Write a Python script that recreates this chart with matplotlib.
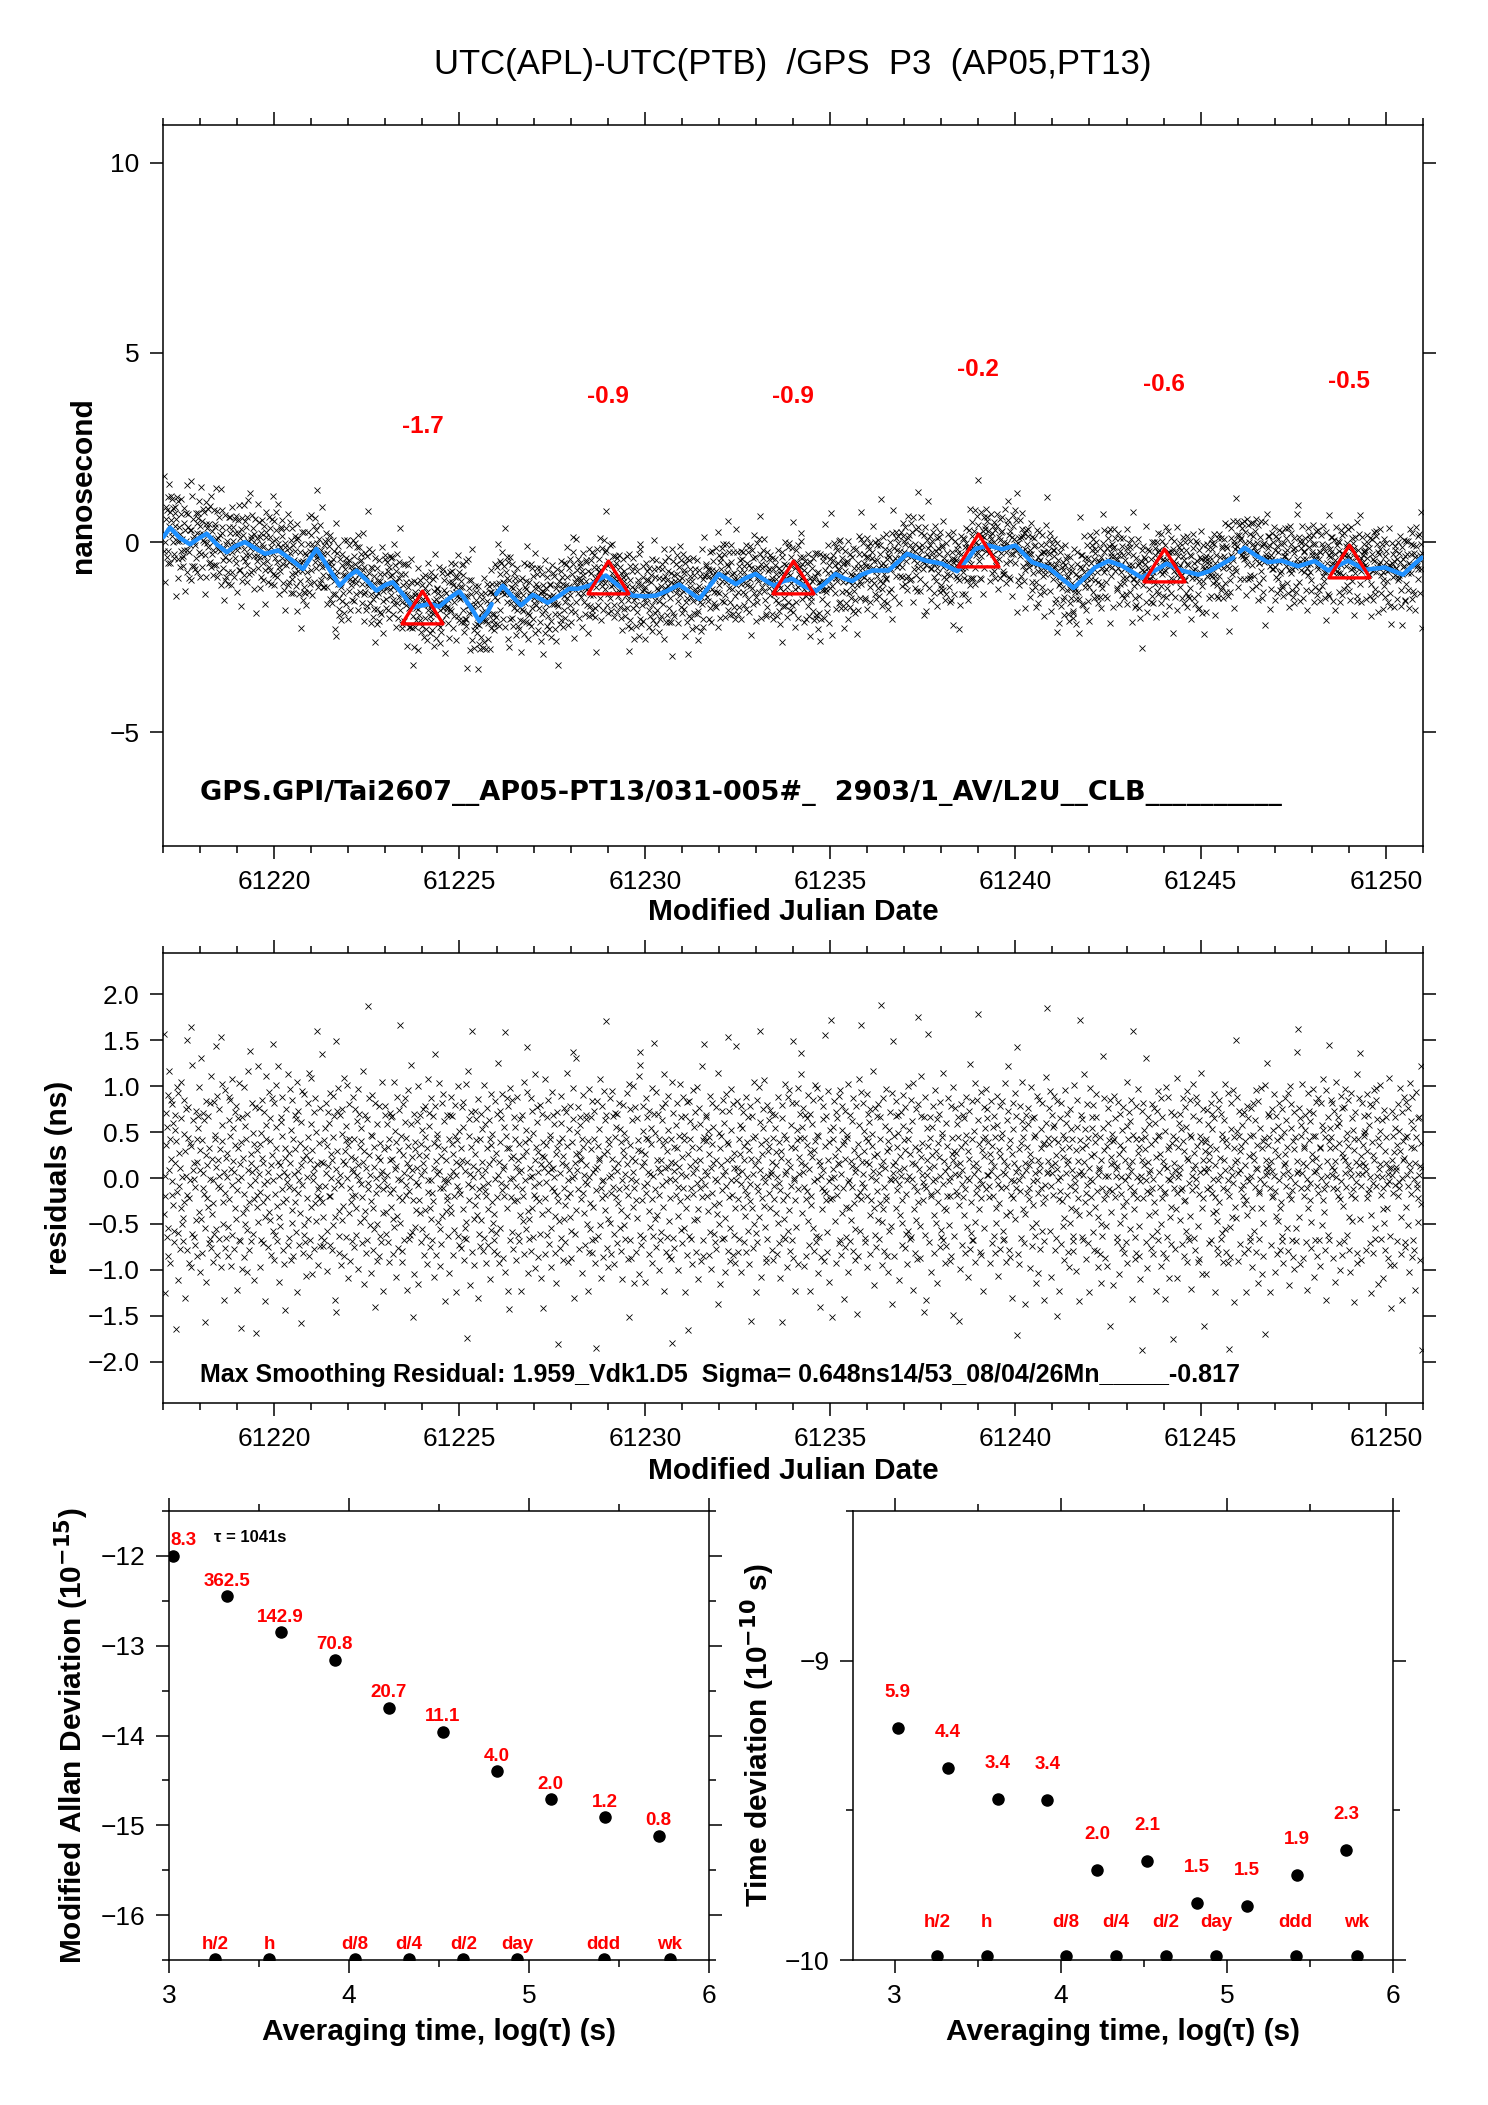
import numpy as np
import matplotlib
matplotlib.use("Agg")
import matplotlib.pyplot as plt
from matplotlib.ticker import MultipleLocator, FixedLocator, FormatStrFormatter
from matplotlib.path import Path

plt.rcParams['font.family'] = ['Liberation Sans', 'DejaVu Sans']
plt.rcParams['axes.unicode_minus'] = True

# ------------------------------------------------------------------ data
title = "UTC(APL)-UTC(PTB)  /GPS  P3  (AP05,PT13)"
info_top = "GPS.GPI/Tai2607__AP05-PT13/031-005#_  2903/1_AV/L2U__CLB__________"
info_mid = "Max Smoothing Residual: 1.959_Vdk1.D5  Sigma= 0.648ns14/53_08/04/26Mn_____-0.817"

mjd_first, mjd_last = 61217.02, 61250.98

# smoothed curve (blue)
smooth_mjd = [61217.01, 61217.19, 61217.45, 61217.73, 61217.95, 61218.18, 61218.45, 61218.72,
              61218.95, 61219.21, 61219.48, 61219.75, 61220.11, 61220.45, 61220.78, 61221.14,
              61221.45, 61221.77, 61222.0, 61222.22, 61222.5, 61222.76, 61223.0, 61223.2,
              61223.5, 61223.74, 61224.0, 61224.19, 61224.46, 61224.75, 61225.0, 61225.3,
              61225.54, 61225.75, 61225.87, 61225.99, 61226.17, 61226.4, 61226.66, 61226.98,
              61227.38, 61227.7, 61227.96, 61228.2, 61228.5, 61228.95, 61229.3, 61229.67,
              61230.0, 61230.3, 61230.6, 61230.93, 61231.2, 61231.47, 61231.75, 61232.0,
              61232.25, 61232.46, 61232.7, 61232.99, 61233.25, 61233.49, 61233.75, 61233.98,
              61234.3, 61234.61, 61234.9, 61235.15, 61235.38, 61235.6, 61235.85, 61236.14,
              61236.58, 61236.85, 61237.08, 61237.57, 61238.02, 61238.43, 61238.7, 61238.92,
              61239.28, 61239.64, 61240.0, 61240.45, 61240.9, 61241.25, 61241.57, 61241.85,
              61242.15, 61242.51, 61242.87, 61243.41, 61243.77, 61244.08, 61244.49, 61244.94,
              61245.25, 61245.56, 61245.88, 61246.05, 61246.19, 61246.5, 61246.82, 61247.18,
              61247.63, 61248.08, 61248.44, 61248.98, 61249.43, 61249.97, 61250.46, 61250.86,
              61250.97]
smooth_ns = [0.14, 0.39, 0.12, -0.05, 0.10, 0.23, -0.05, -0.26,
             -0.10, 0.01, -0.15, -0.30, -0.21, -0.45, -0.70, -0.17,
             -0.65, -1.14, -0.90, -0.74, -1.00, -1.27, -1.12, -1.05,
             -1.40, -1.71, -1.66, -1.62, -1.69, -1.45, -1.29, -1.70,
             -2.08, -1.85, -1.62, -1.36, -1.14, -1.40, -1.66, -1.38,
             -1.59, -1.40, -1.22, -1.22, -1.14, -0.87, -1.15, -1.40,
             -1.42, -1.40, -1.28, -1.11, -1.30, -1.49, -1.15, -0.83,
             -0.98, -1.10, -0.95, -0.83, -1.00, -1.14, -1.02, -0.96,
             -1.15, -1.29, -1.05, -0.83, -0.95, -1.02, -0.85, -0.74,
             -0.74, -0.50, -0.30, -0.48, -0.56, -0.76, -0.45, -0.17,
             -0.08, -0.18, -0.08, -0.52, -0.67, -0.95, -1.20, -0.95,
             -0.66, -0.49, -0.61, -0.93, -0.74, -0.56, -0.74, -0.85,
             -0.75, -0.58, -0.40, -0.25, -0.14, -0.35, -0.52, -0.48,
             -0.63, -0.49, -0.74, -0.48, -0.72, -0.66, -0.85, -0.49,
             -0.40]
line_breaks = [61225.92, 61245.95]

# 5-day averages (red triangles)
tri_mjd = [61224, 61229, 61234, 61239, 61244, 61249]
tri_ns = [-1.7, -0.9, -0.9, -0.2, -0.6, -0.5]
tri_labels = ["-1.7", "-0.9", "-0.9", "-0.2", "-0.6", "-0.5"]

# residuals (ns): one coarse code character plus one fine digit per point.
# code characters '#'..'~' (backslash skipped) -> values in ns:
CODE_CHARS = "".join(chr(c) for c in range(35, 127) if c != 92)
CODE_VALUES = ([-1.96, -1.87, -1.80, -1.75, -1.70, -1.66, -1.62, -1.58, -1.55, -1.51,
                -1.48, -1.45, -1.42, -1.39, -1.36] +
               [-1.33, -1.23, -1.15, -1.09, -1.03, -0.98, -0.94, -0.90, -0.86, -0.83,
                -0.80, -0.77, -0.74, -0.71, -0.68] +
               [-0.66, -0.62, -0.57, -0.53, -0.48, -0.44, -0.40, -0.35, -0.31, -0.26,
                -0.22, -0.18, -0.13, -0.09, -0.04, 0.00, 0.04, 0.09, 0.13, 0.18,
                0.22, 0.26, 0.31, 0.35, 0.40, 0.44, 0.48, 0.53, 0.57, 0.62, 0.66] +
               [0.68, 0.71, 0.74, 0.77, 0.80, 0.83, 0.86, 0.90, 0.94, 0.98,
                1.03, 1.09, 1.15, 1.23, 1.33] +
               [1.36, 1.39, 1.42, 1.45, 1.48, 1.51, 1.55, 1.58, 1.62, 1.66,
                1.70, 1.75, 1.80, 1.87, 1.96])
resid_codes = "".join([
    "GwQ3KbXA^h;DRmZ8UfLeOI_C?Ta](YjM5BiVN=SH`kEP@FgJ[W2cQu<LdZ9KOYy7XBn_RTAP>",
    "NcE:TZa]HjR6WoFY<MbQ_L+Dg4VSK`I?XeAPl=UGJ9OfB[ZrSCh;NTd@QMWv7Yk^EJ2RLi>AUP",
    "V;DhK_ZgR8NBl]TQ=XcIFe3MW`OAk?SP)Ya7GUjL:E^HZ6bCRm<JNqTV@fQ[B5KXdOS'IWLnE",
    "Qd7MXA[Uf?JTNb2GZl^OK=RiHYE`S;VgCPte9BLW]k@ITnFQ4DSa_ZMh<JR8UX.KcOPm>ANVj",
    "T]9fEHZ:MQaWJ`Ck3LRbO?YG_S*iNU<BDh@XV5KPeFZm;TAI^lW6QOc=RJgE[SLx8MNYd>KBT",
    "JoG>TYA]NeQC6XbSL_Ki?PV=UhDZ`MF2Ru-cWOj<HBQa8N[EdTIl;SWA^YkP5XGZf9MJU@LRgQ",
    "Z=LcUIB_Qj7SPaXEN]Y?KTm4FWHb;RA`OM}gVDQ6J[Zh<ICSX0fLP^E9NUd:BTY@QkR3MGOWa",
    "eBHN^Q?XZ9TbLIa`UM;FDk]RY5SGhP=KWcyE[O8J<VfAQg_NLZ3TXi@SMBP^nUCR,Ka6DYWOH",
    "S_Nj4KVaGX?QD]TcR;ZHeUB8WlOMb^I=FPgLAJ`5SYdpT:QZ[EXkR7NCV?GfMi_PWO1HTaKLB",
    "O6ZaIPhG`XR;VCKe[TQ3NYjB?M]LS=WdUf^HA9DRk@E&TmOJ_Z4QXbNw<PS8FcVIY`LGg2RMB>",
    "YbF]QT<NAk^MR8LWdO?H_SZ5CXiJ[EU=G@PfVBa;KQn9TDcY`OMh:RL]Sw6ZNIgXe3W/PAjUK",
    "Cf=VPJaZ^SN9KhTB?QX`GR3MbLUEk;OYD]Wir6HFZ@SPg<IcQA[NL7TmXKd_R:VOJeBS5GUaY0S",
    "UlK;XOB`QHf?TZ[R7DiNSaM^P<GV4LWcJ%YE=QAh_ZT9UFdN@IbSKXm8OR]GeLC:PYqj`Q2TBVo",
    "H[RdM=VUa^TK6ZXhLGQ?OSb_NE3YjP<CJ`WAf;IQZc@R8M$SgBXT]UlD5NKeO:PVi_LHaz>W7FZ",
    "PXgE;LQiU`N8BSbZ^KRa?JTMfC]H=YO5WeDV[Q@ZNhSG9Lk,XAc:P_UIjR4MTd<KOF`YWl6Bqn",
    "W?JS]AeTN4VZgLO`RYcH;QD^XKj8BPsa[MFi=UGSbZ7LQ@TCd_NXIm3YRf<OWAh]SE:KPZ9Tk%",
    "AbXR=OTL^WeGN7ZSkJ`CQ?UMh[DYa3IPf;KV(gB_SZ@N8XiLQE]TcR<FOj5HWd^MU9PKn:YAZs",
    "RN`YaKQ]H;ZVhCS7XLf^TIB?PUd=GO1mJ[EW4SZbM@QgA_R6FNiYTv<XcK9DPj]LUe:VSB8HOr",
    "fS<KQZA^VeN6R]IbXT?GMh;LPY`CW8OdJ+UaH=QZkE[S3BNg@TMFjx_RX5VKc]PIlDO:Y9AeWQ",
    "LX_IcQR=TaZ9KN]bGSV;PEh?OYM5WU*d`BJ[FkQ@ZR7LTgCHi<SN^XAfu:OP3KWeD]YMj8QUZbm",
    "TpG]QcN8ZSa;KX`MhE?RVb3LIU^Df=OWkY@B[Pj6ZTA/SgQ:NHe_RM9XvJLa<CUi4YOK]Pz",
    "K,RZ^PfEVb8NL`TWh?SAj;QGd]XM2YUc=IB[ZkO6HPa@TF_SNg<JWD9QRe-LV:Xl^CMyKiTO",
    "Qe]WNA?ZTh7LYb_SGc;KPX[Rm4UIdBO=VM`Ff@QJZa}SE8THg<NR^LKj:W6YC]XPbDOi0QSt",
    "Z;PTfI`XMa[RN5GUbQ?KEh^YSdW=LB8OjCZ]QV@Ag_TPk3NHX<ScF9MJe{RW:DUl`QYOK.Na",
    "hB2NQ]TXw?RaZL6KV^dOGS;iPWE`4MJYbUQ=fCA[Z@NmTI8R_H>XLSgODP9Ke:VZ-jTBWQcM",
    "VS^LaZ+QIT7Xe?NRKb`G;MYh[PD5WOcUn=BJfAZ@SQ]Ek8TLNg_R|HX<PKi:OW3YCdV^ZMjQ",
    "c`QYKN8VRgT?XL]BSa;ZIEh^PO5JWd=UMZf[CRA@TkQN9G_Sbn<XHY:LP2VKe]OTFi`MQ'rS",
    ";P8WeMAYQ_kHZ]?GT0RbXLc^KNS7VjU`D>IOaZQ[B4EhPT6LRg=SWM]CfXJ2Y@KN_lQ}ZTRd",
    "XiCN5SbQ]LZ^h=TVA,RgYO3K`PMe?JWU[DF9Zj_QaLS;TX7ENcI]RZ@B<PkMO6HW^fKTGQ2Yz",
    "bRWA_@QmT]J9LXeNZ?S3GPjUK^O`Cd=VIY[ah<MQF7SR;ZET4BNo]KWgP:LD8X_QcMYf)UHS",
    "M[4YTZhK`QRB?SfN6VXaELP]=IWdG;UO@J8k^ZQbS_CNgR2TLx[HM9AYe<KPVjX:DO5QZc$T",
    "KeS]WZ?oO7MaTQG^LRX=fBN;PJd_YH3UCbZi@Q[VNg8E`KT<SL]M2j:ARWhPX5OFc?IYQ&ZN",
    "aTR=ZHl5LPXQ_bSE]M?NgYWJ;dK^C8UiTBO@G[fZ3QMRk`VAS<hNPXe9DL:_ZQmYI6TKc)RW",
    "YQ6ZcMR^V?TNXfAL]bPG`iSK3HW=Ed;OJgUQa@B[Z9N_TRCk<YXM8PhL$:DSe]QFOjZW2ITu",
    "F]hTQ9ZcR?WXM^aNLJ;bYS3KeGP`=OUBZ@dQ7I[fVTC_NiS<XRg4LAM]PjHW6EY:ZOk'QSTn",
    "QXb`SZN3?TcKR]LhPM6WaGY;UE^fOI=JZdB@Q8S[gTV_NCXi<R4LjPKe]AMY:Wc7ZOD?pQTx",
    "RdG8`NZ^QkT:XLWa]?SP3MhIYc_KO=EVTbj[Q5ZAUfRN;LgS@X7WPe^D]KlHMZ<i2OTQBaYs",
    "A]WgZQeS:NbRT4XkP^MLaY_?K7hOcV;IU@dTjQNZ[BXSf=G6RLPi`E]M2WZbKTO<m9QYSgFp",
    "U9NQfXT[aZS]=RWhKLbM^P?e3GYdO;ViTC@gNj`QZ4RXS]kALP_5HMcE<WZTaNI:QOlR8B/S",
    "TcQLZ8V^NaRSX?Ke]OMjWG;2PbTYhU@Z=fI[QDdN6SkR_XLg:A]WP<3TZiOMKE`QaS9JYnR$",
])
resid_fine = "".join([
    "7310946825113807294658027153946018275309481726354098127364059128374650917",
    "2297403816553028194766120938574409318726118562093733490718526627134098055",
    "8804126937174285936022184739059961302847550392716488374052196612948073341",
    "5526081739441973028577804159263372018645991453270866238719405508263917728",
    "1137924086665401837299018364572248710395773620914844159038268892047613560",
    "3390517284772846501911462039588857193064221374859066409283715579104836217",
    "9928371045331608249755749361208801264739446395718211294803677738015924689",
    "6607149382228593071644390728511178346209995201863733604892158847153092436",
    "4415893026997304185266281573903319406827770183596455462907132290516483871",
    "2263074918881256930433579204166694031857112856370999051728464432687015593",
    "7749206135550834719211869235704431075268886729041322158360946694170258312",
    "5581930472223670185999134560287768203145334291876011876359025520491637946",
    "8830162457446958302177240163981157390642668521407933019687529946027315204",
    "1192740583663710592422598314609904627381551683902777482015963385162740678",
    "4457028316882594617366037182952271954038334906581299184236071164390785531",
    "6628391504119407236844871609325530824719887623904122039571687741589236092",
    "3376510849554126803788120934656647901283119537460244280619579960834172783",
    "9904283671771854692033654012872219683054663217094888473250165503816927410",
    "2241697058998603251455297184637714093826445086213966381072951172960348865",
    "7765043182331095724611483625708895720413552369408122670183594486357102129",
    "5519832764667420158999304651273358179240778290631511235486976605172943357",
    "8843105926225963701866178243054491036872997521840333469072515528614079804",
    "1168274053442591036733860412956607352819224986371088120754367763940128276",
    "3302659187778134609255749038611126480537665893120499351267482297081365643",
    "6689413025115602784388035692175547812306331270845977693518204440265973918",
    "4437820591889416327022619380457720354618118394702655046928316617830549035",
    "9951067238332748510644091537622268091374884672019566325849171175309468562",
    "2278936140551360249777562840199931745602449506832733084712568854192603781",
    "7714502863664089315211275603843383926571556201784999173480652236805194429",
    "5546278019996203548766834019258807619243221853476044519620383379256041196",
    "8867093514223841607544157926836654280917773016548211865037299902487316673",
    "1135849726770952138499486031523317056498669342810555247108638861235970340",
    "3391625408448617023955308427161149367025228591463777680415926607893421857",
    "6623910578885734209622940681357726851349994120675833754809164418637205904",
    "4460187392331465982077682105435590843172115736290466069318259923574016218",
    "9972845031668120793533275964182246013587880475921611398257045550361298765",
    "2205318674114096285388917350264473209681331608745299475820317789406152431",
    "7736492108559287461011530479826635918207447820653922846130753321059874586",
    "5517263940221849075666043718299982650143779013486588537260191167482350912",
    "8849071526996138520444795130683304826795552694187377153086422246013958371",
])
n_pts = min(len(resid_codes), len(resid_fine))
residual_ns = np.array([CODE_VALUES[CODE_CHARS.index(c)] + (int(d) - 4.5) * 0.0045
                        for c, d in zip(resid_codes[:n_pts], resid_fine[:n_pts])])

# stability (log10 scales)
log_tau = [3.02, 3.32, 3.62, 3.92, 4.22, 4.52, 4.82, 5.12, 5.42, 5.72]
mdev_log = [-12.0, -12.45, -12.85, -13.155, -13.69, -13.96, -14.40, -14.71, -14.91, -15.12]
mdev_labels = ["8.3", "362.5", "142.9", "70.8", "20.7", "11.1", "4.0", "2.0", "1.2", "0.8"]
tdev_log = [-9.226, -9.359, -9.463, -9.467, -9.70, -9.67, -9.81, -9.819, -9.717, -9.632]
tdev_labels = ["5.9", "4.4", "3.4", "3.4", "2.0", "2.1", "1.5", "1.5", "1.9", "2.3"]
span_names = ["h/2", "h", "d/8", "d/4", "d/2", "day", "ddd", "wk"]
span_log = [3.255, 3.556, 4.033, 4.334, 4.635, 4.936, 5.414, 5.782]
tau_text = "\u03c4 = 1041s"

# ------------------------------------------------------------------ figure
W, H = 1488, 2105
fig = plt.figure(figsize=(W / 100, H / 100), dpi=100)


def rect(l, t, r, b):
    return [l / W, 1 - b / H, (r - l) / W, (b - t) / H]


ax1 = fig.add_axes(rect(163, 125, 1423, 846))
ax2 = fig.add_axes(rect(163, 953, 1423, 1403))
ax3 = fig.add_axes(rect(169, 1511, 709, 1960))
ax4 = fig.add_axes(rect(853, 1511, 1393, 1960))

TICK_FS = 19
LAB_FS = 21.5
RED = '#ff0000'


def style(ax):
    for s in ax.spines.values():
        s.set_linewidth(1.1)
    ax.tick_params(which='both', direction='out', top=True, right=True,
                   labeltop=False, labelright=False, labelsize=TICK_FS, width=1.1, pad=7.5)
    ax.tick_params(which='major', length=9.5)
    ax.tick_params(which='minor', length=5)


mjd = np.linspace(mjd_first, mjd_last, n_pts)
sm_x = np.array(smooth_mjd)
sm_y = np.array(smooth_ns)
top_values = np.interp(mjd, sm_x, sm_y) + residual_ns

# ---- top panel
ax1.plot(mjd, top_values, 'x', color='k', ms=4.2, mew=0.6, zorder=2)
edges = [-np.inf] + line_breaks + [np.inf]
for a, b in zip(edges[:-1], edges[1:]):
    m = (sm_x > a) & (sm_x < b)
    ax1.plot(sm_x[m], sm_y[m], color='#1E90FF', lw=3.2, solid_capstyle='round',
             solid_joinstyle='round', zorder=3)
tri = Path([(-1, -0.8), (1, -0.8), (0, 0.8), (0, 0)],
           [Path.MOVETO, Path.LINETO, Path.LINETO, Path.CLOSEPOLY])
ax1.plot(tri_mjd, tri_ns, linestyle='none', marker=tri, ms=29.5, mfc='none',
         mec=RED, mew=2.4, zorder=4)
for m_, v, lab in zip(tri_mjd, tri_ns, tri_labels):
    ax1.text(m_, v + 4.75, lab, color=RED, fontsize=17.5, fontweight='bold',
             ha='center', va='center')
ax1.text(61218.0, -6.6, info_top, fontsize=19.5, fontweight='bold', family='DejaVu Sans',
         ha='left', va='center')
ax1.set_xlim(61217, 61251)
ax1.set_ylim(-8, 11)
ax1.xaxis.set_major_locator(MultipleLocator(5))
ax1.xaxis.set_minor_locator(MultipleLocator(1))
ax1.xaxis.set_major_formatter(FormatStrFormatter('%d'))
ax1.yaxis.set_major_locator(FixedLocator([-5, 0, 5, 10]))
style(ax1)
ax1.set_xlabel("Modified Julian Date", fontsize=LAB_FS, fontweight='bold', va='center')
ax1.xaxis.set_label_coords(0.5, -0.092)
ax1.set_ylabel("nanosecond", fontsize=LAB_FS, fontweight='bold', va='center')
ax1.yaxis.set_label_coords(-0.0635, 0.5)
ax1.text(0.5, 1.0836, title, transform=ax1.transAxes, fontsize=25, ha='center', va='center')

# ---- residual panel
ax2.plot(mjd, residual_ns, 'x', color='k', ms=4.2, mew=0.6)
ax2.text(61218.0, -2.14, info_mid, fontsize=18, fontweight='bold', ha='left', va='center')
ax2.set_xlim(61217, 61251)
ax2.set_ylim(-2.45, 2.45)
ax2.xaxis.set_major_locator(MultipleLocator(5))
ax2.xaxis.set_minor_locator(MultipleLocator(1))
ax2.xaxis.set_major_formatter(FormatStrFormatter('%d'))
ax2.yaxis.set_major_locator(MultipleLocator(0.5))
style(ax2)
ax2.set_xlabel("Modified Julian Date", fontsize=LAB_FS, fontweight='bold', va='center')
ax2.xaxis.set_label_coords(0.5, -0.152)
ax2.set_ylabel("residuals (ns)", fontsize=LAB_FS, fontweight='bold', va='center')
ax2.yaxis.set_label_coords(-0.0825, 0.5)

# ---- modified Allan deviation
ax3.plot(log_tau, mdev_log, 'o', color='k', ms=8)
ax3.plot(span_log, [-16.49] * len(span_log), 'o', color='k', ms=8)
for i, (x, y, lab) in enumerate(zip(log_tau, mdev_log, mdev_labels)):
    if i == 0:
        ax3.text(3.005, y + 0.168, lab, color=RED, fontsize=13.5, fontweight='bold',
                 ha='left', va='center')
    else:
        ax3.text(x, y + 0.168, lab, color=RED, fontsize=13.5, fontweight='bold',
                 ha='center', va='center')
for x, lab in zip(span_log, span_names):
    ax3.text(x, -16.33, lab, color=RED, fontsize=13.5, fontweight='bold',
             ha='center', va='center')
ax3.text(3.248, -11.79, tau_text, fontsize=12, fontweight='bold', ha='left', va='center')
ax3.set_xlim(3, 6)
ax3.set_ylim(-16.5, -11.5)
ax3.xaxis.set_major_locator(MultipleLocator(1))
ax3.xaxis.set_minor_locator(MultipleLocator(0.5))
ax3.yaxis.set_major_locator(MultipleLocator(1))
ax3.yaxis.set_minor_locator(MultipleLocator(0.5))
style(ax3)
ax3.set_xlabel("Averaging time, log(\u03c4) (s)", fontsize=LAB_FS, fontweight='bold', va='center')
ax3.xaxis.set_label_coords(0.5, -0.160)
ax3.set_ylabel(r"Modified Allan Deviation (10$^{\mathbf{-15}}$)", fontsize=LAB_FS,
               fontweight='bold', va='center')
ax3.yaxis.set_label_coords(-0.180, 0.5)

# ---- time deviation
ax4.plot(log_tau, tdev_log, 'o', color='k', ms=8)
ax4.plot(span_log, [-9.986] * len(span_log), 'o', color='k', ms=8)
for x, y, lab in zip(log_tau, tdev_log, tdev_labels):
    ax4.text(x, y + 0.119, lab, color=RED, fontsize=13.5, fontweight='bold',
             ha='center', va='center')
for x, lab in zip(span_log, span_names):
    ax4.text(x, -9.875, lab, color=RED, fontsize=13.5, fontweight='bold',
             ha='center', va='center')
ax4.set_xlim(2.75, 6)
ax4.set_ylim(-10, -8.5)
ax4.xaxis.set_major_locator(FixedLocator([3, 4, 5, 6]))
ax4.xaxis.set_minor_locator(FixedLocator([3.5, 4.5, 5.5]))
ax4.yaxis.set_major_locator(FixedLocator([-10, -9]))
ax4.yaxis.set_minor_locator(FixedLocator([-9.5, -8.5]))
style(ax4)
ax4.set_xlabel("Averaging time, log(\u03c4) (s)", fontsize=LAB_FS, fontweight='bold', va='center')
ax4.xaxis.set_label_coords(0.5, -0.160)
ax4.set_ylabel(r"Time deviation (10$^{\mathbf{-10}}$ s)", fontsize=LAB_FS,
               fontweight='bold', va='center')
ax4.yaxis.set_label_coords(-0.1765, 0.5)

fig.savefig("out.png", dpi=100)
